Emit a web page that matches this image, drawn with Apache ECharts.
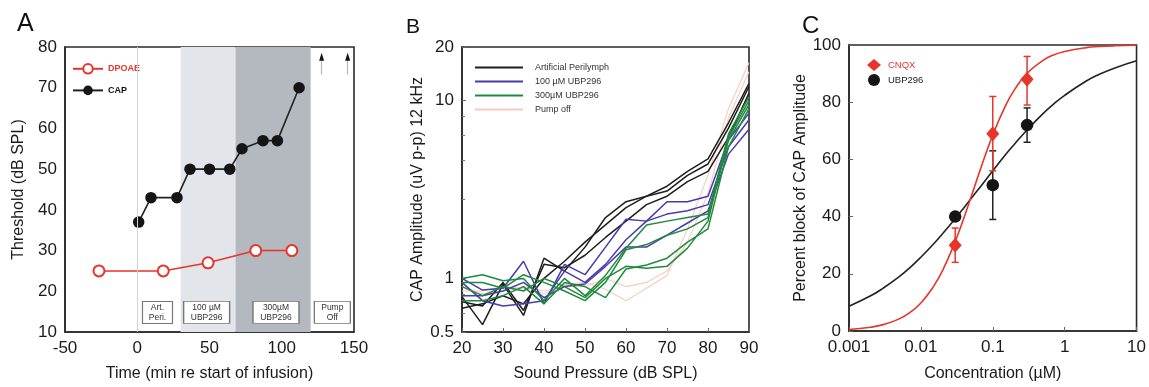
<!DOCTYPE html>
<html>
<head>
<meta charset="utf-8">
<script src="https://cdn.jsdelivr.net/npm/echarts@6/dist/echarts.min.js"></script>
<style>html,body{margin:0;padding:0;background:#fff}#chart{width:1149px;height:387px}</style>
</head>
<body>
<div id="chart"></div>
<script>
// ---------- Panel A data ----------
const capTimes = [1, 9.5, 27.5, 36.5, 50, 64, 72.5, 87, 97, 112];
const capThresh = [37, 43, 43, 50, 50, 50, 55, 57, 57, 70];
const dpoaeTimes = [-26.5, 18, 49, 82, 107];
const dpoaeThresh = [25, 25, 27, 30, 30];
const phaseLightRange = [30, 68];
const phaseDarkRange = [68, 120];
const phaseLabels = ['Art.\nPeri.', '100 µM\nUBP296', '300µM\nUBP296', 'Pump\nOff'];
const phaseLabelTimes = [14, 48, 96, 135];
const phaseLabelLevel = 14.8;
const arrowTimes = [127.6, 145.6];
const arrowFrom = 73.2, arrowTo = 78.5;
const aXTicks = [-50, 0, 50, 100, 150];
const aYTicks = [10, 20, 30, 40, 50, 60, 70, 80];

// ---------- Panel B data ----------
const splLevels = [20, 25, 30, 35, 40, 45, 50, 55, 60, 65, 70, 75, 80, 85, 90];
const artPeriLines = [
  [0.79, 0.55, 0.93, 0.62, 1.3, 1.1, 1.5, 2.2, 2.7, 2.9, 3.3, 4.0, 4.7, 7.5, 12.5],
  [0.68, 0.72, 0.80, 0.72, 1.0, 1.25, 1.6, 2.0, 2.5, 2.9, 3.1, 3.8, 4.4, 7.0, 12.0],
  [0.74, 0.70, 0.95, 0.66, 1.2, 1.15, 1.35, 1.7, 2.1, 2.6, 2.9, 3.5, 4.0, 6.2, 11.0]
];
const ubp100Lines = [
  [1.0, 0.86, 0.88, 1.25, 0.72, 1.2, 1.05, 1.5, 2.15, 2.1, 2.7, 2.7, 2.9, 6.0, 8.5],
  [0.95, 0.75, 0.70, 0.72, 0.75, 1.1, 0.95, 1.2, 1.65, 2.1, 2.3, 2.4, 2.6, 5.5, 7.8],
  [0.80, 0.80, 0.85, 0.95, 0.78, 0.90, 0.93, 1.17, 1.5, 1.5, 1.75, 2.05, 2.4, 5.0, 6.9]
];
const ubp300Lines = [
  [1.0, 1.05, 0.97, 1.0, 0.75, 1.0, 0.80, 1.04, 1.48, 2.0, 2.1, 2.2, 2.3, 6.5, 10.5],
  [0.95, 0.95, 0.88, 1.05, 0.95, 0.85, 0.75, 0.95, 1.45, 1.55, 1.75, 1.9, 2.2, 6.0, 9.5],
  [0.75, 0.75, 0.80, 0.90, 0.72, 0.95, 0.90, 0.78, 1.13, 1.19, 1.30, 1.6, 1.9, 5.5, 9.0],
  [0.90, 0.80, 0.90, 0.85, 1.0, 0.90, 0.78, 1.0, 1.17, 1.14, 1.17, 1.48, 2.1, 6.2, 10.0]
];
const pumpOffLines = [
  [0.85, 0.85, 0.9, 0.88, 0.82, 0.92, 0.95, 0.87, 0.75, 0.88, 1.04, 1.9, 3.8, 9.0, 16.3],
  [0.9, 0.82, 0.85, 0.9, 0.85, 0.9, 0.9, 1.0, 0.9, 0.95, 1.1, 1.6, 3.0, 8.0, 14.5]
];
const bGroupNames = ['Artificial Perilymph', '100 µM UBP296', '300µM UBP296', 'Pump off'];

// ---------- Panel C data ----------
const cnqxConc = [0.03, 0.1, 0.3];
const cnqxPct = [30, 69, 88];
const cnqxLow = [24, 56, 79];
const cnqxHigh = [36, 82, 96];
const ubpConc = [0.03, 0.1, 0.3];
const ubpPct = [40, 51, 72];
const ubpLow = [40, 39, 66];
const ubpHigh = [40, 63, 78];
const fitConc = [0.001, 0.002, 0.003, 0.005, 0.007, 0.01, 0.015, 0.02, 0.03, 0.04, 0.05, 0.07, 0.1, 0.15, 0.2, 0.3, 0.5, 0.7, 1, 2, 3, 5, 10];
const cnqxFit = [0.54, 1.33, 2.23, 4.24, 6.41, 9.82, 15.6, 21.1, 31.3, 39.8, 46.9, 57.8, 68.5, 78.7, 84.3, 90.1, 94.6, 96.5, 97.7, 99.07, 99.45, 99.72, 99.89];
const ubpFit = [8.67, 12.3, 15.0, 19.0, 22.1, 25.8, 30.4, 34.0, 39.3, 43.2, 46.3, 51.0, 56.0, 61.6, 65.3, 70.3, 76.0, 79.3, 82.4, 87.4, 89.7, 92.0, 94.5];
const cXTicks = [0.001, 0.01, 0.1, 1, 10];
const cYTicks = [0, 20, 40, 60, 80, 100];

// ---------- styles ----------
const FONT = 'Liberation Sans, Arial, Helvetica, sans-serif';
const RED = '#e6352a';
const BLACK = '#151515';
const bGroupColors = ['#1e1e1e', '#4a3aae', '#1f8a3e', '#f5ccbe'];
const phaseBoxSizes = [[30, 22], [46, 22], [46, 22], [36, 22]];
const AXC = '#2a2a2a';

function zip(xs, ys) { return xs.map((x, i) => [x, ys[i]]); }

function axisBase(extra) {
  return Object.assign({
    axisLine: { show: true, onZero: false, lineStyle: { color: AXC, width: 1.6 } },
    axisTick: { show: true, inside: true, length: 4, lineStyle: { color: '#666', width: 1 } },
    splitLine: { show: false },
    axisLabel: { color: '#1a1a1a', fontSize: 17, fontFamily: FONT, margin: 8 },
    nameTextStyle: { color: '#1a1a1a', fontSize: 16, fontFamily: FONT },
    nameLocation: 'middle'
  }, extra);
}

const grids = [
  { left: 65, top: 47, width: 289, height: 287, show: true, borderColor: AXC, borderWidth: 1.6, backgroundColor: 'transparent' },
  { left: 462, top: 47, width: 287, height: 287, show: true, borderColor: AXC, borderWidth: 1.6 },
  { left: 849, top: 45, width: 289, height: 288, show: true, borderColor: AXC, borderWidth: 1.6 }
];

const xAxes = [
  axisBase({ gridIndex: 0, type: 'value', min: aXTicks[0], max: aXTicks[aXTicks.length - 1], interval: 50,
    name: 'Time (min re start of infusion)', nameGap: 34, axisTick: { show: false } }),
  axisBase({ gridIndex: 1, type: 'value', min: splLevels[0], max: splLevels[splLevels.length - 1], interval: 10,
    name: 'Sound Pressure (dB SPL)', nameGap: 34 }),
  axisBase({ gridIndex: 2, type: 'log', logBase: 10, min: cXTicks[0], max: cXTicks[cXTicks.length - 1],
    name: 'Concentration (µM)', nameGap: 35,
    axisLabel: { color: '#1a1a1a', fontSize: 17, fontFamily: FONT, margin: 8,
      formatter: v => String(+(+v).toPrecision(3)) } })
];

const yAxes = [
  axisBase({ gridIndex: 0, type: 'value', min: aYTicks[0], max: aYTicks[aYTicks.length - 1], interval: 10,
    name: 'Threshold (dB SPL)', nameGap: 38, axisTick: { show: false } }),
  axisBase({ gridIndex: 1, type: 'log', logBase: 10, min: 0.5, max: 20,
    name: 'CAP Amplitude (uV p-p) 12 kHz', nameGap: 36,
    minorTick: { show: true, splitNumber: 5, length: 3, lineStyle: { color: '#777' } },
    axisLabel: { color: '#1a1a1a', fontSize: 17, fontFamily: FONT, margin: 8,
      formatter: v => String(+(+v).toPrecision(3)) } }),
  axisBase({ gridIndex: 2, type: 'value', min: cYTicks[0], max: cYTicks[cYTicks.length - 1], interval: 20,
    name: 'Percent block of CAP Amplitude', nameGap: 38 })
];

const series = [];

// Panel A: shaded phases, zero line, phase boxes, arrows
const boxPoints = phaseLabels.map((t, i) => ({
  coord: [phaseLabelTimes[i], phaseLabelLevel],
  symbol: 'rect', symbolSize: phaseBoxSizes[i],
  itemStyle: { color: '#fff', borderColor: '#777', borderWidth: 1 },
  label: { show: true, position: 'inside', formatter: t, color: '#333', fontSize: 8.5, lineHeight: 10, fontFamily: FONT }
}));
const arrowHeads = arrowTimes.map(t => ({
  coord: [t, arrowTo - 0.9], symbol: 'triangle', symbolSize: [5, 8],
  itemStyle: { color: '#111' }, label: { show: false }
}));
series.push({
  type: 'line', xAxisIndex: 0, yAxisIndex: 0, data: [], silent: true, z: 1,
  markArea: {
    silent: true,
    data: [
      [{ xAxis: phaseLightRange[0], itemStyle: { color: '#e2e5ea' } }, { xAxis: phaseLightRange[1] }],
      [{ xAxis: phaseDarkRange[0], itemStyle: { color: '#b4b8bf' } }, { xAxis: phaseDarkRange[1] }]
    ]
  },
  markLine: {
    silent: true, symbol: ['none', 'none'], label: { show: false },
    data: [
      [{ coord: [0, aYTicks[0]], lineStyle: { color: '#d0d3d8', width: 1, type: 'solid' } }, { coord: [0, aYTicks[aYTicks.length - 1]] }],
      ...arrowTimes.map(t => [{ coord: [t, arrowFrom], lineStyle: { color: '#bbb', width: 1.2, type: 'solid' } }, { coord: [t, arrowTo - 1.5] }])
    ]
  },
  markPoint: { silent: true, data: boxPoints.concat(arrowHeads) }
});

series.push({
  name: 'DPOAE', type: 'line', xAxisIndex: 0, yAxisIndex: 0, z: 3,
  data: zip(dpoaeTimes, dpoaeThresh),
  symbol: 'circle', symbolSize: 11,
  lineStyle: { color: RED, width: 1.6 },
  itemStyle: { color: '#fff', borderColor: RED, borderWidth: 2 }
});
series.push({
  name: 'CAP', type: 'line', xAxisIndex: 0, yAxisIndex: 0, z: 3,
  data: zip(capTimes, capThresh),
  symbol: 'circle', symbolSize: 11.5,
  lineStyle: { color: '#222', width: 1.6 },
  itemStyle: { color: BLACK }
});

// Panel B
const bGroups = [pumpOffLines, artPeriLines, ubp100Lines, ubp300Lines];
const bGroupIdx = [3, 0, 1, 2];
bGroups.forEach((lines, gi) => {
  const g = bGroupIdx[gi];
  lines.forEach(vals => {
    series.push({
      name: bGroupNames[g], type: 'line', xAxisIndex: 1, yAxisIndex: 1,
      data: zip(splLevels, vals), symbol: 'none', showSymbol: false,
      lineStyle: { color: bGroupColors[g], width: g === 3 ? 1.1 : 1.5 },
      itemStyle: { color: bGroupColors[g] }
    });
  });
});

// Panel C
function errRender(color) {
  return function (params, api) {
    const x = api.value(0), lo = api.value(1), hi = api.value(2);
    const p1 = api.coord([x, lo]), p2 = api.coord([x, hi]);
    const cw = 3.5;
    const st = { stroke: color, lineWidth: 1.5 };
    return { type: 'group', children: [
      { type: 'line', shape: { x1: p1[0], y1: p1[1], x2: p2[0], y2: p2[1] }, style: st },
      { type: 'line', shape: { x1: p1[0] - cw, y1: p1[1], x2: p1[0] + cw, y2: p1[1] }, style: st },
      { type: 'line', shape: { x1: p2[0] - cw, y1: p2[1], x2: p2[0] + cw, y2: p2[1] }, style: st }
    ] };
  };
}
series.push({
  name: 'UBP296 fit', type: 'line', xAxisIndex: 2, yAxisIndex: 2, data: zip(fitConc, ubpFit),
  smooth: true, symbol: 'none', lineStyle: { color: '#222', width: 1.6 }, z: 2
});
series.push({
  name: 'CNQX fit', type: 'line', xAxisIndex: 2, yAxisIndex: 2, data: zip(fitConc, cnqxFit),
  smooth: true, symbol: 'none', lineStyle: { color: RED, width: 1.6 }, z: 2
});
series.push({
  name: 'UBP296 err', type: 'custom', xAxisIndex: 2, yAxisIndex: 2, z: 3,
  data: ubpConc.map((c, i) => [c, ubpLow[i], ubpHigh[i]]), renderItem: errRender('#222'),
  encode: { x: 0, y: [1, 2] }
});
series.push({
  name: 'CNQX err', type: 'custom', xAxisIndex: 2, yAxisIndex: 2, z: 3,
  data: cnqxConc.map((c, i) => [c, cnqxLow[i], cnqxHigh[i]]), renderItem: errRender(RED),
  encode: { x: 0, y: [1, 2] }
});
series.push({
  name: 'CNQX', type: 'scatter', xAxisIndex: 2, yAxisIndex: 2, z: 4,
  data: zip(cnqxConc, cnqxPct), symbol: 'diamond', symbolSize: [13, 15],
  itemStyle: { color: RED, opacity: 1 }
});
series.push({
  name: 'UBP296', type: 'scatter', xAxisIndex: 2, yAxisIndex: 2, z: 4,
  data: zip(ubpConc, ubpPct), symbol: 'circle', symbolSize: 12.5,
  itemStyle: { color: BLACK, opacity: 1 }
});

const option = {
  animation: false,
  backgroundColor: '#fff',
  textStyle: { fontFamily: FONT },
  title: [
    { text: 'A', left: 12, top: 7, textStyle: { fontSize: 25, fontWeight: 'normal', color: '#111', fontFamily: FONT } },
    { text: 'B', left: 401, top: 12, textStyle: { fontSize: 21, fontWeight: 'normal', color: '#111', fontFamily: FONT } },
    { text: 'C', left: 797, top: 9, textStyle: { fontSize: 24, fontWeight: 'normal', color: '#111', fontFamily: FONT } }
  ],
  legend: [
    { left: 67, top: 58, orient: 'vertical', itemWidth: 30, itemHeight: 12, itemGap: 11,
      data: [{ name: 'DPOAE', textStyle: { color: RED } }, { name: 'CAP', textStyle: { color: '#111' } }],
      textStyle: { fontSize: 9, fontWeight: 'bold', fontFamily: FONT, padding: [0, 0, 0, 0] }, selectedMode: false },
    { left: 470, top: 58, orient: 'vertical', itemWidth: 48, itemHeight: 10, itemGap: 5,
      data: bGroupNames.map(n => ({ name: n, icon: 'path://M0,0 L48,0 L48,2 L0,2 Z' })),
      textStyle: { fontSize: 9, color: '#333', fontFamily: FONT, padding: [0, 0, 0, 7] }, selectedMode: false },
    { left: 862, top: 54, orient: 'vertical', itemWidth: 14, itemHeight: 12, itemGap: 3,
      data: [{ name: 'CNQX', textStyle: { color: RED } }, { name: 'UBP296', textStyle: { color: '#222' } }],
      textStyle: { fontSize: 9.5, fontFamily: FONT, padding: [0, 0, 0, 2] }, selectedMode: false }
  ],
  grid: grids,
  xAxis: xAxes,
  yAxis: yAxes,
  series: series
};

const chart = echarts.init(document.getElementById('chart'), null, { renderer: 'canvas' });
chart.setOption(option);
</script>
</body>
</html>
